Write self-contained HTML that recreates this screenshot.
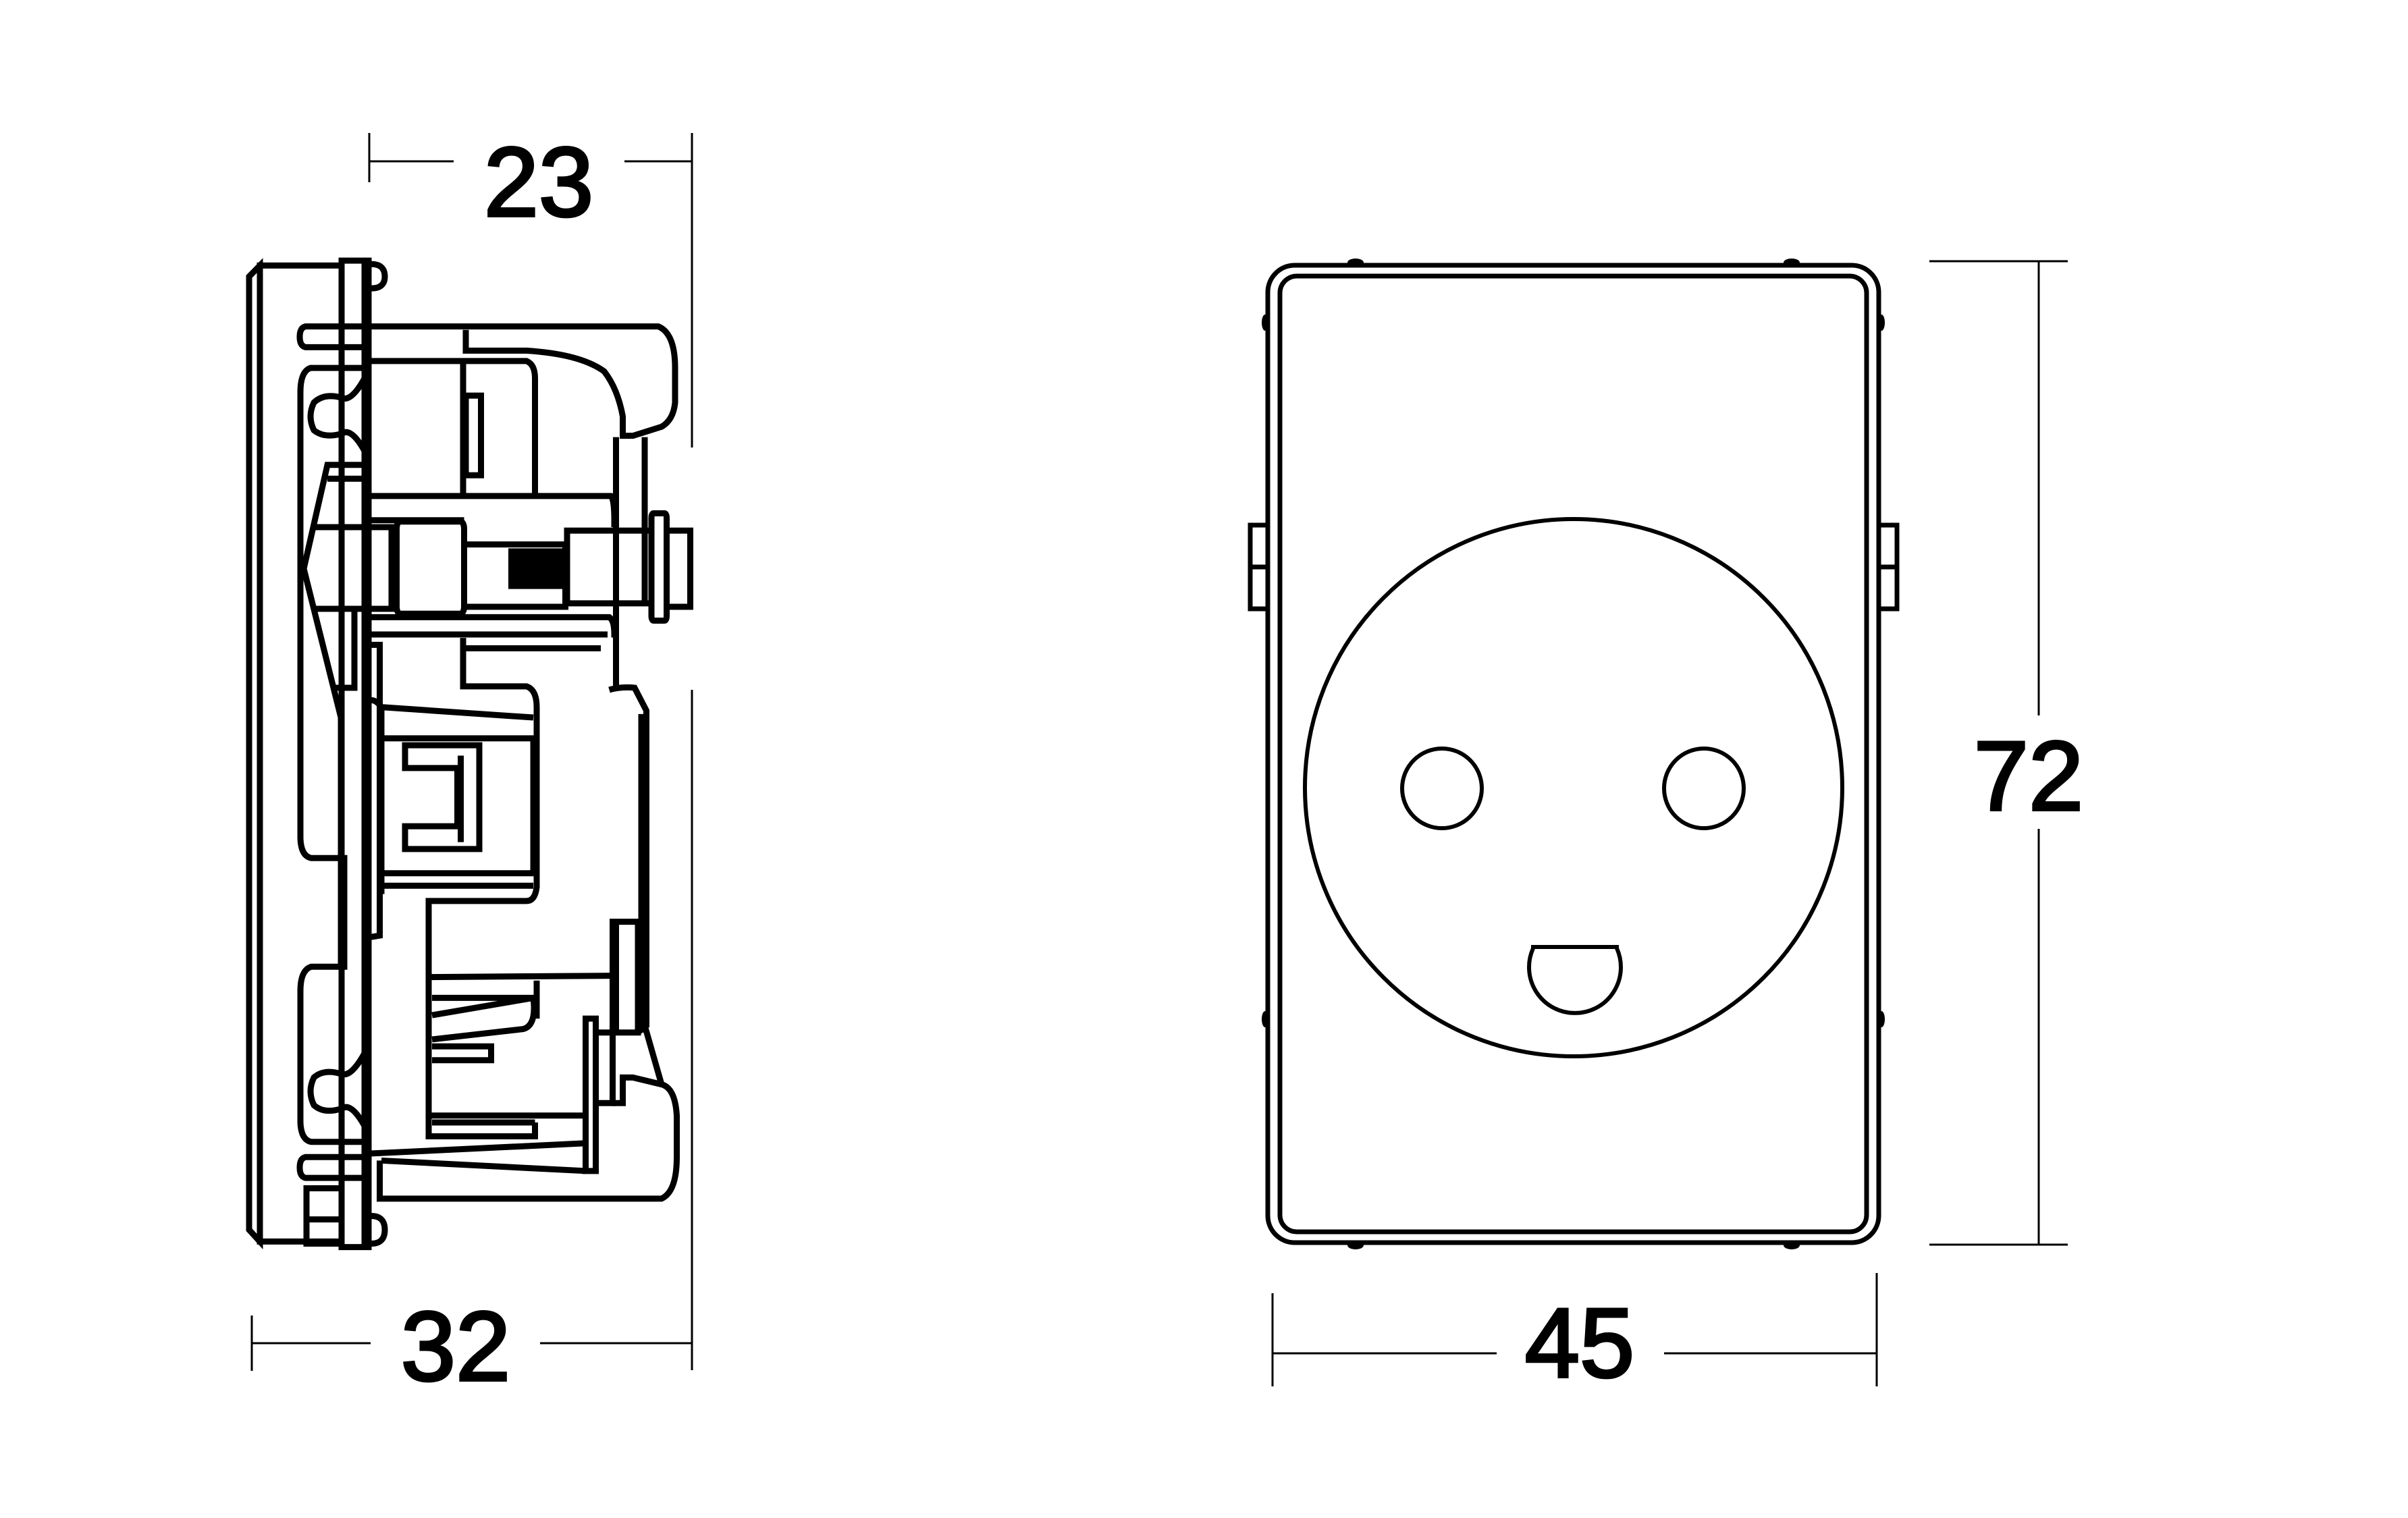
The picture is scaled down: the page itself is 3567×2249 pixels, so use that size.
<!DOCTYPE html>
<html><head><meta charset="utf-8"><style>
html,body{margin:0;padding:0;background:#fff;}
svg{display:block;}
text{font-family:"Liberation Sans",sans-serif;font-size:146px;fill:#000;stroke:#000;stroke-width:4px;}
</style></head><body>
<svg width="3567" height="2249" viewBox="0 0 3567 2249" xmlns="http://www.w3.org/2000/svg">
<g stroke="#000" stroke-width="3" fill="none">
  <line x1="547" y1="197" x2="547" y2="270"/>
  <line x1="547" y1="239" x2="672" y2="239"/>
  <line x1="925" y1="239" x2="1025" y2="239"/>
  <line x1="1025" y1="197" x2="1025" y2="663"/>
  <line x1="1025" y1="1022" x2="1025" y2="2030"/>
  <line x1="373" y1="1949" x2="373" y2="2031"/>
  <line x1="373" y1="1990" x2="549" y2="1990"/>
  <line x1="800" y1="1990" x2="1025" y2="1990"/>
  <line x1="1885" y1="1916" x2="1885" y2="2054"/>
  <line x1="2780" y1="1886" x2="2780" y2="2054"/>
  <line x1="1885" y1="2005" x2="2217" y2="2005"/>
  <line x1="2465" y1="2005" x2="2780" y2="2005"/>
  <line x1="2858" y1="387" x2="3063" y2="387"/>
  <line x1="2858" y1="1844" x2="3063" y2="1844"/>
  <line x1="3020" y1="387" x2="3020" y2="1060"/>
  <line x1="3020" y1="1228" x2="3020" y2="1844"/>
</g>
<text x="798" y="320" text-anchor="middle">23</text>
<text x="675" y="2045" text-anchor="middle">32</text>
<text x="2340" y="2040" text-anchor="middle">45</text>
<text x="3005" y="1200" text-anchor="middle">72</text>

<g stroke="#000" stroke-width="7" fill="none">
  <rect x="1878" y="393" width="905" height="1448" rx="40"/>
  <rect x="1896" y="409" width="869" height="1416" rx="25"/>
  <rect x="1852" y="778" width="26" height="124"/>
  <line x1="1852" y1="840" x2="1878" y2="840"/>
  <rect x="2783" y="778" width="27" height="124"/>
  <line x1="2783" y1="840" x2="2810" y2="840"/>
  <circle cx="2331" cy="1167" r="398" stroke-width="6"/>
  <circle cx="2136" cy="1168" r="59" stroke-width="6"/>
  <circle cx="2524" cy="1168" r="59" stroke-width="6"/>
  <path d="M2268,1403 L2398,1403" stroke-width="6"/>
  <path d="M2271,1405 A68 68 0 1 0 2395,1405" stroke-width="6"/>
</g>
<g fill="#000">
  <ellipse cx="2008" cy="389" rx="12" ry="6"/>
  <ellipse cx="2654" cy="389" rx="12" ry="6"/>
  <ellipse cx="2008" cy="1845" rx="12" ry="6"/>
  <ellipse cx="2654" cy="1845" rx="12" ry="6"/>
  <ellipse cx="1874" cy="478" rx="5" ry="12"/>
  <ellipse cx="2787" cy="478" rx="5" ry="12"/>
  <ellipse cx="1874" cy="1510" rx="5" ry="12"/>
  <ellipse cx="2787" cy="1510" rx="5" ry="12"/>
</g>

<g transform="translate(330,340) scale(0.5,1.0256)" stroke="#000" fill="none" stroke-width="9">
  <path vector-effect="non-scaling-stroke" d="M110,52 L78,68 L78,1445 L110,1462 Z"/>
  <rect vector-effect="non-scaling-stroke" x="110" y="52" width="242" height="1410"/>
  <rect vector-effect="non-scaling-stroke" x="352" y="45" width="80" height="1425"/>
  <line vector-effect="non-scaling-stroke" x1="420" y1="45" x2="420" y2="1470"/>
  <path vector-effect="non-scaling-stroke" d="M440,50 Q480,50 480,68 Q480,85 440,85"/>
  <path vector-effect="non-scaling-stroke" d="M440,1425 Q480,1425 480,1445 Q480,1465 440,1465"/>
  <path vector-effect="non-scaling-stroke" d="M420,140 L245,140 Q228,142 228,155 Q228,168 245,170 L420,170"/>
  <path vector-effect="non-scaling-stroke" d="M420,1340 L245,1340 Q228,1342 228,1355 Q228,1368 245,1370 L420,1370"/>
  <rect vector-effect="non-scaling-stroke" x="248" y="1385" width="104" height="80"/>
  <line vector-effect="non-scaling-stroke" x1="248" y1="1430" x2="352" y2="1430"/>
  <path vector-effect="non-scaling-stroke" d="M420,200 L260,200 Q230,205 230,235 L230,880 Q232,905 262,908 L360,908 L360,1065 L262,1065 Q230,1070 230,1100 L230,1290 Q232,1315 262,1318 L420,1318"/>
  <path vector-effect="non-scaling-stroke" d="M352,243 Q300,236 270,250 Q250,270 270,290 Q300,302 352,295 Q380,285 420,320 M352,243 Q380,250 420,215"/>
  <path vector-effect="non-scaling-stroke" d="M352,1220 Q300,1212 270,1225 Q250,1245 270,1265 Q300,1278 352,1270 Q380,1260 420,1295 M352,1220 Q380,1225 420,1190"/>
  <path vector-effect="non-scaling-stroke" d="M420,340 L310,340 L240,490 L350,705 L350,1065"/>
  <line vector-effect="non-scaling-stroke" x1="310" y1="360" x2="420" y2="360"/>
  <line vector-effect="non-scaling-stroke" x1="270" y1="430" x2="432" y2="430"/>
  <line vector-effect="non-scaling-stroke" x1="270" y1="548" x2="432" y2="548"/>
  <path vector-effect="non-scaling-stroke" d="M335,662 L390,662 L390,548"/>
  <path vector-effect="non-scaling-stroke" d="M432,140 L1290,140 Q1340,150 1340,200 L1340,250 Q1335,275 1300,285 L1215,298 L1185,298 L1185,270 Q1170,230 1130,205 Q1060,180 900,175 L720,175 L720,145"/>
  <path vector-effect="non-scaling-stroke" d="M432,190 L712,190 L712,385 M712,190 L900,190 Q925,195 925,215 L925,385"/>
  <rect vector-effect="non-scaling-stroke" x="720" y="240" width="45" height="115"/>
  <path vector-effect="non-scaling-stroke" d="M432,385 L1150,385 Q1160,390 1160,420 L1160,430 M432,420 L715,420"/>
  <path vector-effect="non-scaling-stroke" d="M432,430 L500,430 L500,548 L432,548"/>
  <rect vector-effect="non-scaling-stroke" x="515" y="422" width="200" height="133" rx="10"/>
  <rect vector-effect="non-scaling-stroke" x="715" y="455" width="300" height="90"/>
  <rect vector-effect="non-scaling-stroke" x="855" y="465" width="150" height="50" fill="#000"/>
  <rect vector-effect="non-scaling-stroke" x="1020" y="435" width="250" height="105"/>
  <rect vector-effect="non-scaling-stroke" x="1270" y="410" width="45" height="155" rx="6"/>
  <rect vector-effect="non-scaling-stroke" x="1315" y="435" width="70" height="110"/>
  <path vector-effect="non-scaling-stroke" d="M432,560 L1145,560 Q1160,565 1160,585 L1165,585 M432,585 L1140,585"/>
  <line vector-effect="non-scaling-stroke" x1="720" y1="605" x2="1120" y2="605"/>
  <path vector-effect="non-scaling-stroke" d="M440,600 L465,600 L465,1020 L440,1022"/>
  <line vector-effect="non-scaling-stroke" x1="1165" y1="300" x2="1165" y2="660"/>
  <line vector-effect="non-scaling-stroke" x1="1250" y1="300" x2="1250" y2="540"/>
  <path vector-effect="non-scaling-stroke" d="M712,590 L712,660 L900,660 Q930,665 930,690 L930,950 Q925,970 900,970 L610,970 L610,1310 L925,1310 L925,1290"/>
  <path vector-effect="non-scaling-stroke" d="M440,680 Q455,680 470,690 L920,705 M470,735 L920,735 L920,930 L470,930 M470,948 L920,948"/>
  <path vector-effect="non-scaling-stroke" d="M470,690 L470,960"/>
  <path vector-effect="non-scaling-stroke" d="M540,745 L760,745 L760,895 L540,895 L540,862 L695,862 L695,778 L540,778 Z"/>
  <line vector-effect="non-scaling-stroke" x1="705" y1="760" x2="705" y2="885"/>
  <path vector-effect="non-scaling-stroke" d="M1145,665 Q1180,660 1220,662 L1255,695 L1255,1150 L1230,1160"/>
  <line vector-effect="non-scaling-stroke" x1="1240" y1="700" x2="1240" y2="1160"/>
  <rect vector-effect="non-scaling-stroke" x="1155" y="1000" width="75" height="160"/>
  <line vector-effect="non-scaling-stroke" x1="1165" y1="1000" x2="1165" y2="1160"/>
  <path vector-effect="non-scaling-stroke" d="M610,1080 L1150,1078 M620,1110 L920,1110 M620,1135 L920,1110 Q930,1150 890,1155 L620,1170 M620,1180 L795,1180 L795,1200 L620,1200"/>
  <path vector-effect="non-scaling-stroke" d="M930,1085 L930,1140"/>
  <path vector-effect="non-scaling-stroke" d="M610,1280 L1080,1280 M620,1290 L925,1290"/>
  <rect vector-effect="non-scaling-stroke" x="1075" y="1140" width="30" height="220"/>
  <path vector-effect="non-scaling-stroke" d="M1105,1160 L1155,1160 L1155,1262 L1105,1262"/>
  <path vector-effect="non-scaling-stroke" d="M432,1335 L1075,1320 M470,1345 L1075,1360"/>
  <path vector-effect="non-scaling-stroke" d="M465,1345 L465,1400 L1300,1400 Q1345,1390 1345,1340 L1345,1280 Q1340,1240 1300,1235 L1215,1225 L1185,1225 L1185,1262 L1155,1262"/>
  <line vector-effect="non-scaling-stroke" x1="1300" y1="1235" x2="1250" y2="1150"/>
</g>
</svg>
</body></html>
